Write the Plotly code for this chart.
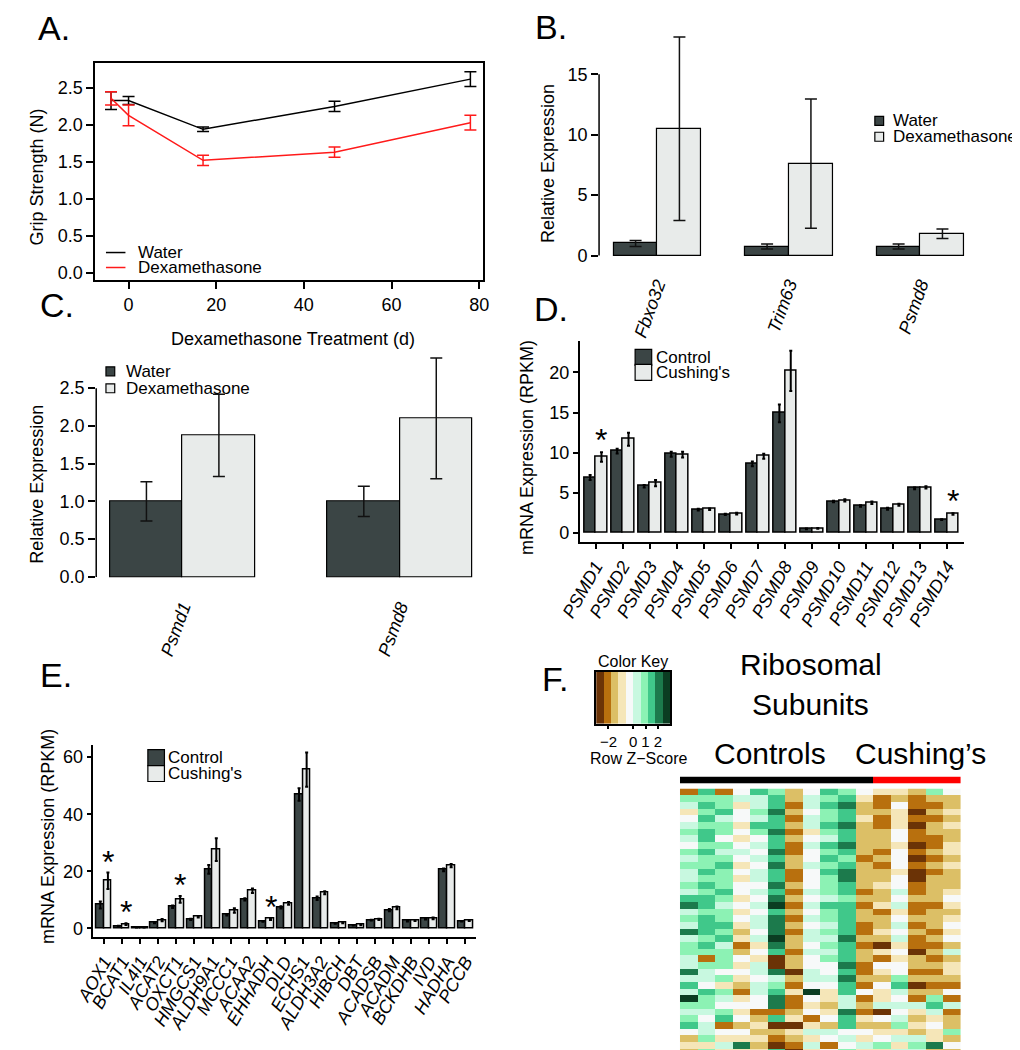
import plotly.graph_objects as go

W, H = 1020, 1050
FONT = "Liberation Sans, Arial, sans-serif"
DARK = "#3b4545"
LIGHT = "#e8ebea"
RED = "#ff1a1a"

# ---- data -------------------------------------------------------------
# A. grip strength
days = [-4, 0, 17, 47, 78]
water_grip = [2.33, 2.33, 1.94, 2.25, 2.62]
water_grip_se = [0.12, 0.055, 0.03, 0.07, 0.10]
dex_grip = [2.36, 2.13, 1.52, 1.63, 2.03]
dex_grip_se = [0.09, 0.14, 0.07, 0.07, 0.10]

# B. qPCR mouse muscle
b_genes = ["Fbxo32", "Trim63", "Psmd8"]
b_water = [1.0, 0.75, 0.75]
b_water_se = [0.25, 0.2, 0.2]
b_dex = [10.5, 7.6, 1.8]
b_dex_se = [7.6, 5.35, 0.4]

# C. qPCR proteasome
c_genes = ["Psmd1", "Psmd8"]
c_water = [1.0, 1.0]
c_water_se = [0.26, 0.20]
c_dex = [1.875, 2.10]
c_dex_se = [0.545, 0.80]

# D. PSMD RNAseq
d_genes = ["PSMD1", "PSMD2", "PSMD3", "PSMD4", "PSMD5", "PSMD6", "PSMD7",
           "PSMD8", "PSMD9", "PSMD10", "PSMD11", "PSMD12", "PSMD13", "PSMD14"]
d_ctrl = [6.9, 10.2, 5.8, 9.8, 2.9, 2.3, 8.6, 14.9, 0.5, 3.9, 3.35, 3.0, 5.55, 1.65]
d_ctrl_se = [0.3, 0.3, 0.15, 0.3, 0.1, 0.08, 0.3, 1.1, 0.05, 0.1, 0.1, 0.12, 0.1, 0.05]
d_cush = [9.46, 11.67, 6.2, 9.75, 2.95, 2.4, 9.55, 20.2, 0.55, 4.05, 3.75, 3.5, 5.67, 2.35]
d_cush_se = [0.6, 0.8, 0.4, 0.35, 0.1, 0.1, 0.3, 2.5, 0.05, 0.15, 0.15, 0.12, 0.15, 0.1]
d_sig = ["PSMD1", "PSMD14"]

# E. BCAA catabolism RNAseq
e_genes = ["AOX1", "BCAT1", "IL4I1", "ACAT2", "OXCT1", "HMGCS1", "ALDH9A1",
           "MCCC1", "ACAA2", "EHHADH", "DLD", "ECHS1", "ALDH3A2", "HIBCH",
           "DBT", "ACADSB", "ACADM", "BCKDHB", "IVD", "HADHA", "PCCB"]
e_ctrl = [8.2, 0.8, 0.35, 2.0, 7.6, 3.2, 20.7, 4.8, 10.2, 2.5, 7.4, 46.9, 10.6,
          1.8, 1.1, 2.9, 6.4, 2.6, 3.3, 20.5, 2.5]
e_ctrl_se = [1.2, 0.15, 0.05, 0.2, 0.4, 0.2, 1.5, 0.3, 0.4, 0.15, 0.4, 2.2, 0.6,
             0.15, 0.1, 0.15, 0.4, 0.2, 0.2, 0.5, 0.1]
e_cush = [16.7, 1.5, 0.35, 2.9, 10.2, 4.1, 27.6, 6.3, 13.2, 3.3, 8.8, 55.6, 12.5,
          2.0, 1.2, 3.2, 7.2, 2.8, 3.5, 22.0, 2.7]
e_cush_se = [2.9, 0.3, 0.05, 0.4, 1.2, 0.3, 4.0, 0.8, 0.8, 0.3, 0.5, 6.0, 0.5,
             0.2, 0.1, 0.2, 0.5, 0.2, 0.3, 0.6, 0.1]
e_sig = ["AOX1", "BCAT1", "OXCT1", "EHHADH"]

# F. ribosomal subunit heatmap, binned row z-scores (0 = darkest brown ... 9 = darkest green)
hm_cols = [
    "1653456546565" "5657856585665" "58575965674232",
    "7676767767667" "6767767776761" "65547665455636",
    "1667566465676" "6676566767566" "64636546714353",
    "4534434345434" "3443434323124" "34321343424383",
    "7556576454545" "5454545545343" "55455441232323",
    "6778778778787" "7878978889870" "08567881702107",
    "2212121211221" "1212121212212" "20213112303210",
    "4554553454454" "4454545455454" "45549434135353",
    "7676676576767" "6665766565656" "44543323425414",
    "6787787787678" "8776777778777" "87877558774546",
    "4322322222122" "2212122112122" "11214121324353",
    "3112112221212" "2322312232031" "43243350423463",
    "3243334434443" "4454534545343" "44675454563535",
    "2110101101010" "0112112121102" "21202153232565",
    "6212122112121" "2222122212121" "21212675343382",
    "4223232233232" "2234323434252" "33214151226242",
]
hm_groups = ["Controls"] * 11 + ["Cushing's"] * 5
key_colors = ["#6b3306", "#b8700e", "#dcbf66", "#f5e6b8", "#f7f9f9",
              "#c8f8e0", "#8cf2b4", "#40c88a", "#1c7a4c", "#0b3d22"]
key_ticks = [-2, 0, 1, 2]


# ---- helpers ----------------------------------------------------------
def dx(a, b):
    return [a / W, b / W]


def dy(top, bottom):
    return [1 - bottom / H, 1 - top / H]


def px(x):
    return x / W


def py(y):
    return 1 - y / H


annotations = []
shapes = []


def label(text, x, y, size=18, xa="center", ya="middle", angle=0, italic=False):
    annotations.append(dict(
        text=text, x=px(x), y=py(y), xref="paper", yref="paper",
        xanchor=xa, yanchor=ya, textangle=angle, showarrow=False,
        font=dict(family=FONT, size=size, color="black",
                  style="italic" if italic else "normal")))


def box(x0, y0, x1, y1, fill):
    shapes.append(dict(type="rect", xref="paper", yref="paper",
                       x0=px(x0), x1=px(x1), y0=py(y0), y1=py(y1),
                       fillcolor=fill, line=dict(color="black", width=1.2)))


def err(vals, color="#111111", w=6, t=1.5):
    return dict(type="data", array=vals, visible=True, color=color, width=w, thickness=t)


fig = go.Figure()

# ---- A ---------------------------------------------------------------
fig.add_trace(go.Scatter(x=days, y=water_grip, mode="lines", line=dict(color="black", width=1.5),
                         error_y=err(water_grip_se, "black"), xaxis="x", yaxis="y"))
fig.add_trace(go.Scatter(x=days, y=dex_grip, mode="lines", line=dict(color=RED, width=1.5),
                         error_y=err(dex_grip_se, RED), xaxis="x", yaxis="y"))

# ---- B ---------------------------------------------------------------
bx = [3 * i + 1.5 for i in range(len(b_genes))]
fig.add_trace(go.Bar(x=bx, y=b_water, width=1, marker=dict(color=DARK, line=dict(color="black", width=1.2)),
                     error_y=err(b_water_se), xaxis="x2", yaxis="y2"))
fig.add_trace(go.Bar(x=[v + 1 for v in bx], y=b_dex, width=1,
                     marker=dict(color=LIGHT, line=dict(color="black", width=1.2)),
                     error_y=err(b_dex_se), xaxis="x2", yaxis="y2"))

# ---- C ---------------------------------------------------------------
cx = [3 * i + 1.5 for i in range(len(c_genes))]
fig.add_trace(go.Bar(x=cx, y=c_water, width=1, marker=dict(color=DARK, line=dict(color="black", width=1.2)),
                     error_y=err(c_water_se), xaxis="x3", yaxis="y3"))
fig.add_trace(go.Bar(x=[v + 1 for v in cx], y=c_dex, width=1,
                     marker=dict(color=LIGHT, line=dict(color="black", width=1.2)),
                     error_y=err(c_dex_se), xaxis="x3", yaxis="y3"))

# ---- D ---------------------------------------------------------------
dxs = list(range(1, len(d_genes) + 1))
fig.add_trace(go.Bar(x=[v - 0.21 for v in dxs], y=d_ctrl, width=0.42,
                     marker=dict(color=DARK, line=dict(color="black", width=1.5)),
                     error_y=err(d_ctrl_se, "black", 1.5, 2), xaxis="x4", yaxis="y4"))
fig.add_trace(go.Bar(x=[v + 0.21 for v in dxs], y=d_cush, width=0.42,
                     marker=dict(color=LIGHT, line=dict(color="black", width=1.5)),
                     error_y=err(d_cush_se, "black", 1.5, 2), xaxis="x4", yaxis="y4"))
for g in d_sig:
    i = d_genes.index(g)
    annotations.append(dict(text="*", x=i + 1.21, y=d_cush[i] + d_cush_se[i], xref="x4", yref="y4",
                            yanchor="bottom", yshift=-8, showarrow=False,
                            font=dict(family=FONT, size=32, color="black")))

# ---- E ---------------------------------------------------------------
exs = list(range(1, len(e_genes) + 1))
fig.add_trace(go.Bar(x=[v - 0.21 for v in exs], y=e_ctrl, width=0.42,
                     marker=dict(color=DARK, line=dict(color="black", width=1.5)),
                     error_y=err(e_ctrl_se, "black", 1.5, 2), xaxis="x5", yaxis="y5"))
fig.add_trace(go.Bar(x=[v + 0.21 for v in exs], y=e_cush, width=0.42,
                     marker=dict(color=LIGHT, line=dict(color="black", width=1.5)),
                     error_y=err(e_cush_se, "black", 1.5, 2), xaxis="x5", yaxis="y5"))
for g in e_sig:
    i = e_genes.index(g)
    annotations.append(dict(text="*", x=i + 1.21, y=e_cush[i] + e_cush_se[i], xref="x5", yref="y5",
                            yanchor="bottom", yshift=-9, showarrow=False,
                            font=dict(family=FONT, size=32, color="black")))

# ---- F ---------------------------------------------------------------
n_rows = len(hm_cols[0])
z = [[int(col[r]) for col in hm_cols] for r in range(n_rows)]
scale = []
for k, c in enumerate(key_colors):
    scale.append([k / len(key_colors), c])
    scale.append([(k + 1) / len(key_colors), c])
fig.add_trace(go.Heatmap(z=z, colorscale=scale, zmin=-0.5, zmax=9.5, showscale=False,
                         xaxis="x6", yaxis="y6"))
group_names = ["Controls", "Cushing's"]
fig.add_trace(go.Heatmap(z=[[group_names.index(g) for g in hm_groups]],
                         colorscale=[[0, "black"], [0.5, "black"], [0.5, "#ff0000"], [1, "#ff0000"]],
                         zmin=0, zmax=1, showscale=False, xaxis="x7", yaxis="y7"))
key_x = [-3 + 0.6 * (k + 0.5) for k in range(len(key_colors))]
fig.add_trace(go.Heatmap(z=[list(range(len(key_colors)))], x=key_x, colorscale=scale,
                         zmin=-0.5, zmax=9.5, showscale=False, xaxis="x8", yaxis="y8"))

# ---- axes ------------------------------------------------------------
tickf = dict(family=FONT, size=18, color="black")
base = dict(showgrid=False, zeroline=False, tickfont=tickf, tickcolor="black",
            tickwidth=1.5, linecolor="black", linewidth=1.5)

layout = dict(
    width=W, height=H, margin=dict(l=0, r=0, t=0, b=0),
    paper_bgcolor="white", plot_bgcolor="white", showlegend=False,
    font=dict(family=FONT, color="black"), bargap=0,
    xaxis=dict(base, domain=dx(69, 467), range=[-7.6, 80.9], tickvals=[0, 20, 40, 60, 80],
               ticks="outside", ticklen=7, showline=True, mirror=True, anchor="y"),
    yaxis=dict(base, domain=dy(55, 273), range=[-0.108, 2.84], tickvals=[0, 0.5, 1, 1.5, 2, 2.5],
               tickformat=".1f", ticks="outside", ticklen=7, showline=True, mirror=True, anchor="x"),
    xaxis2=dict(base, domain=dx(586, 1000), range=[0.667, 9.87],
                tickvals=[v + 0.5 for v in bx], ticktext=b_genes, tickangle=-70,
                tickfont=dict(tickf, style="italic"), ticks="", showline=False, anchor="y2"),
    yaxis2=dict(base, domain=dy(20, 262), range=[-1.157, 18.84], tickvals=[0, 5, 10, 15],
                ticks="outside", ticklen=7, showline=False, anchor="x2"),
    xaxis3=dict(base, domain=dx(70, 500), range=[0.807, 6.59],
                tickvals=[v + 0.5 for v in cx], ticktext=c_genes, tickangle=-70,
                tickfont=dict(tickf, style="italic"), ticks="", showline=False, anchor="y3"),
    yaxis3=dict(base, domain=dy(340, 585), range=[-0.198, 3.04], tickvals=[0, 0.5, 1, 1.5, 2, 2.5],
                tickformat=".1f", ticks="outside", ticklen=7, showline=False, anchor="x3"),
    xaxis4=dict(base, domain=dx(566, 960), range=[0.4, 14.6], tickvals=dxs, ticktext=d_genes,
                tickangle=-60, tickfont=dict(tickf, style="italic"), ticks="outside", ticklen=5,
                showline=True, anchor="y4"),
    yaxis4=dict(base, domain=dy(333.5, 535), range=[-1.14, 23.94], tickvals=[0, 5, 10, 15, 20],
                ticks="outside", ticklen=5, showline=True, anchor="x4"),
    xaxis5=dict(base, domain=dx(67, 460), range=[0.4, 21.6], tickvals=exs, ticktext=e_genes,
                tickangle=-60, tickfont=dict(tickf, style="italic"), ticks="outside", ticklen=5,
                showline=True, anchor="y5"),
    yaxis5=dict(base, domain=dy(738, 931), range=[-3.07, 64.4], tickvals=[0, 20, 40, 60],
                ticks="outside", ticklen=5, showline=True, anchor="x5"),
    xaxis6=dict(domain=dx(669, 957), range=[-0.5, 15.5], visible=False, anchor="y6"),
    yaxis6=dict(domain=dy(782, 1050), range=[n_rows - 0.5, -0.5], visible=False, anchor="x6"),
    xaxis7=dict(domain=dx(669, 957), range=[-0.5, 15.5], visible=False, anchor="y7"),
    yaxis7=dict(domain=dy(770, 777), range=[-0.5, 0.5], visible=False, anchor="x7"),
    xaxis8=dict(base, domain=dx(583, 659), range=[-3, 3], tickvals=key_ticks,
                ticktext=["\u22122", "0", "1", "2"], tickfont=dict(family=FONT, size=15, color="black"),
                ticks="outside", ticklen=4, showline=True, mirror=True, anchor="y8"),
    yaxis8=dict(base, domain=dy(665, 717), range=[-0.5, 0.5], showticklabels=False, ticks="",
                showline=True, mirror=True, anchor="x8"),
)

# R-style y axis lines for B and C (only over the tick range)
shapes.append(dict(type="line", xref="x2 domain", yref="y2", x0=0, x1=0, y0=0, y1=15,
                   line=dict(color="black", width=1.5)))
shapes.append(dict(type="line", xref="x3 domain", yref="y3", x0=0, x1=0, y0=0, y1=2.5,
                   line=dict(color="black", width=1.5)))

# panel letters
for t, x, y in [("A.", 8, 20), ("B.", 518, 19), ("C.", 10, 298), ("D.", 517, 302),
                ("E.", 10, 668), ("F.", 525, 672)]:
    label(t, x, y, size=34, xa="left")

# axis titles
label("Grip Strength (N)", 9, 169, angle=-90)
label("Dexamethasone Treatment (d)", 272, 332)
label("Relative Expression", 533, 156, angle=-90)
label("Relative Expression", 9, 477, angle=-90)
label("mRNA Expression (RPKM)", 512, 440, angle=-90)
label("mRNA Expression (RPKM)", 21, 830, angle=-90)

# A legend
for name, col, y in [("Water", "black", 245), ("Dexamethasone", RED, 260)]:
    shapes.append(dict(type="line", xref="paper", yref="paper", x0=px(80), x1=px(100),
                       y0=py(y), y1=py(y), line=dict(color=col, width=1.5)))
    label(name, 111, y, size=17, xa="left")

# B and C legends
for name, fill, yb, yc in [("Water", DARK, 113, 364), ("Dexamethasone", LIGHT, 129, 381)]:
    box(869, yb - 4.5, 878, yb + 4.5, fill)
    label(name, 886, yb, size=17, xa="left")
    box(80, yc - 4.5, 89, yc + 4.5, fill)
    label(name, 99, yc, size=17, xa="left")

# D and E legends
for name, fill, yd, ye in [("Control", DARK, 342, 743), ("Cushing's", LIGHT, 357, 759)]:
    box(623, yd, 640, yd + 16, fill)
    label(name, 642, yd + 8, size=17, xa="left")
    box(123, ye, 140, ye + 16, fill)
    label(name, 142, ye + 8, size=17, xa="left")

# F texts
label("Color Key", 621, 655, size=16)
label("Row Z\u2212Score", 626, 752, size=16)
label("Ribosomal", 803, 658, size=30)
label("Subunits", 803, 698, size=30)
label("Controls", 761, 747, size=30)
label("Cushing\u2019s", 916, 747, size=30)

layout["annotations"] = annotations
layout["shapes"] = shapes
fig.update_layout(**layout)
fig.write_html("out.html")
